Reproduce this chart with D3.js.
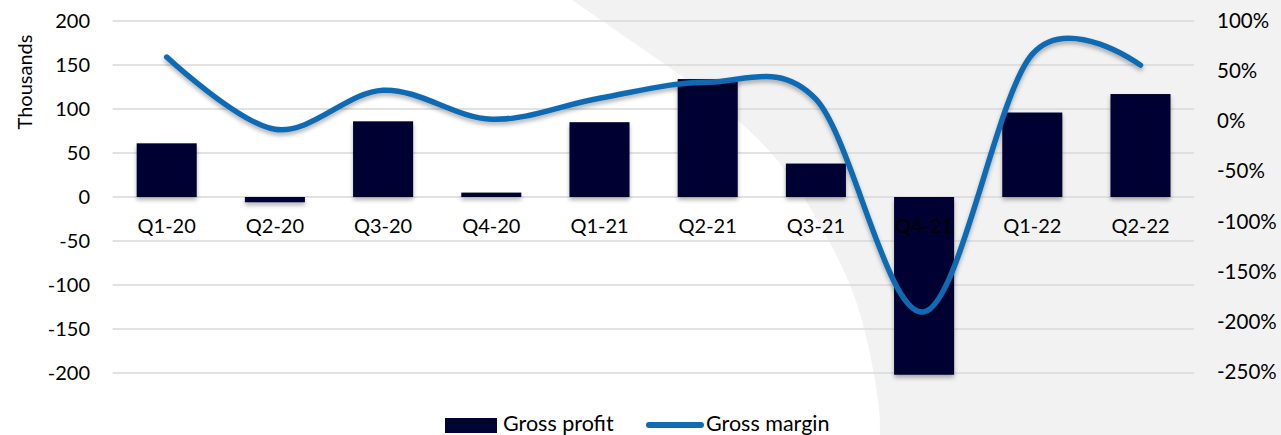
<!DOCTYPE html>
<html>
<head>
<meta charset="utf-8">
<script src="https://cdn.jsdelivr.net/npm/d3@7"></script>
<style>
  body { margin: 0; background: #fff; }
  text { font-family: Lato, "Liberation Sans", sans-serif; fill: #000; }
</style>
</head>
<body>
<div id="chart"></div>
<script>
// Chart data
const quarters = ["Q1-20", "Q2-20", "Q3-20", "Q4-20", "Q1-21", "Q2-21", "Q3-21", "Q4-21", "Q1-22", "Q2-22"];
const grossProfit = [61, -6, 86, 5, 85, 134, 38, -202, 96, 117];   // thousands
const grossMargin = [64, -8, 31, 2, 23, 39, 22, -190, 67, 56];     // percent
const leftTicks = [200, 150, 100, 50, 0, -50, -100, -150, -200];
const rightTicks = [100, 50, 0, -50, -100, -150, -200, -250];

const width = 1281, height = 435;
const svg = d3.select("#chart").append("svg")
    .attr("width", width)
    .attr("height", height);

// soft shadow used by bars and line
const defs = svg.append("defs");
defs.append("filter").attr("id", "shadow")
    .attr("x", "-20%").attr("y", "-20%").attr("width", "140%").attr("height", "140%")
  .append("feDropShadow")
    .attr("dx", 0).attr("dy", 3).attr("stdDeviation", 2)
    .attr("flood-color", "#000").attr("flood-opacity", 0.3);

// background: grey panel with a large white arc on the left
svg.append("rect").attr("width", width).attr("height", height).attr("fill", "#f2f2f2");
const arcEdge = [[572, 0], [640, 47], [690, 82], [740, 122], [785, 170], [820, 225], [850, 285], [868, 345], [878, 400], [880, 435]];
svg.append("path")
    .attr("d", d3.line().curve(d3.curveNatural)(arcEdge) + "L0,435L0,0Z")
    .attr("fill", "#fff");

// scales
const x = d3.scaleBand()
    .domain(quarters)
    .range([112.6, 1194.6])
    .paddingInner(0.445)
    .paddingOuter(0.2225);
const y = d3.scaleLinear().domain([-200, 200]).range([373, 21]);
const y2 = d3.scaleLinear().domain([-250, 100]).range([372, 21]);

// gridlines
svg.append("g")
    .selectAll("line")
    .data(leftTicks)
    .join("line")
    .attr("x1", 112.6)
    .attr("x2", 1194)
    .attr("y1", d => y(d))
    .attr("y2", d => y(d))
    .attr("stroke", "#d9d9d9")
    .attr("stroke-width", 1.5);

// left axis (plain hyphen for negatives)
const leftAxis = svg.append("g")
    .attr("transform", "translate(90,0)")
    .call(d3.axisLeft(y).tickValues(leftTicks).tickSize(0).tickPadding(0).tickFormat(d => String(d)));
leftAxis.select(".domain").remove();
leftAxis.selectAll("text").style("font-size", "20px").attr("fill", "#000");

// right axis
const rightAxis = svg.append("g")
    .attr("transform", "translate(1217,0)")
    .call(d3.axisRight(y2).tickValues(rightTicks).tickSize(0).tickPadding(0).tickFormat(d => d + "%"));
rightAxis.select(".domain").remove();
rightAxis.selectAll("text").style("font-size", "20.5px").attr("fill", "#000");

// axis title
svg.append("text")
    .attr("transform", "translate(32,82) rotate(-90)")
    .attr("text-anchor", "middle")
    .style("font-size", "20px")
    .text("Thousands");

// bars
svg.append("g")
    .attr("filter", "url(#shadow)")
    .selectAll("rect")
    .data(grossProfit)
    .join("rect")
    .attr("x", (d, i) => x(quarters[i]))
    .attr("width", x.bandwidth())
    .attr("y", d => y(Math.max(0, d)))
    .attr("height", d => Math.abs(y(d) - y(0)))
    .attr("fill", "#000433");

// category labels
svg.append("g")
    .selectAll("text")
    .data(quarters)
    .join("text")
    .attr("x", d => x(d) + x.bandwidth() / 2)
    .attr("y", 233)
    .attr("text-anchor", "middle")
    .style("font-size", "20px")
    .text(d => d);

// smoothed margin line
const line = d3.line()
    .x((d, i) => x(quarters[i]) + x.bandwidth() / 2)
    .y(d => y2(d))
    .curve(d3.curveCardinal.tension(0));
svg.append("path")
    .datum(grossMargin)
    .attr("d", line)
    .attr("fill", "none")
    .attr("stroke", "#106bb3")
    .attr("stroke-width", 5.5)
    .attr("stroke-linecap", "round")
    .attr("filter", "url(#shadow)");

// legend
const legend = svg.append("g");
legend.append("rect")
    .attr("x", 445).attr("y", 418).attr("width", 52).attr("height", 15)
    .attr("fill", "#000433");
legend.append("text")
    .attr("x", 503).attr("y", 431)
    .style("font-size", "21.5px")
    .text("Gross profit");
legend.append("line")
    .attr("x1", 649).attr("x2", 701).attr("y1", 425).attr("y2", 425)
    .attr("stroke", "#106bb3").attr("stroke-width", 6).attr("stroke-linecap", "round");
legend.append("text")
    .attr("x", 706).attr("y", 431)
    .style("font-size", "21.5px")
    .text("Gross margin");
</script>
</body>
</html>
